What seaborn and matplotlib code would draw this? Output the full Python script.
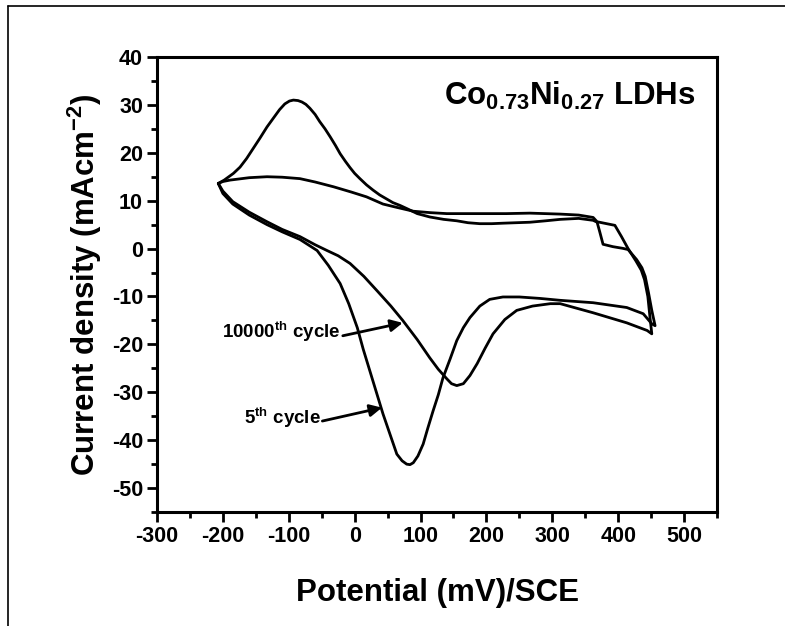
import matplotlib
matplotlib.use("Agg")
import matplotlib.pyplot as plt
from matplotlib.lines import Line2D
import seaborn as sns
import pandas as pd

# ---- cyclic voltammetry data (potential in mV vs SCE, current density in mA/cm^2) ----
# 5th cycle: anodic sweep followed by cathodic sweep
cycle5_potential = [
    -207, -198, -184, -174, -164, -154, -144, -133, -123, -114, -106, -99, -93, -86, -80,
    -74, -68, -60, -53, -45, -37, -29, -22, -14, -7, 0, 8, 18, 28, 38, 48, 58, 69, 80, 95,
    114, 135, 155, 172, 190, 208, 225, 245, 266, 290, 312, 340, 362, 368, 372, 377, 392,
    407, 415, 428, 436, 441, 446, 451, 456,
    451, 438, 413, 362, 312, 281, 250, 225, 205, 190, 175, 165, 155, 145, 134, 127, 119,
    111, 104, 96, 89, 84, 79, 72, 64, 53, 43, 33, 23, 13, 4, -9, -22, -40, -57, -83, -110,
    -133, -160, -185, -200, -207,
]
cycle5_current = [
    13.6, 14.3, 15.7, 17.0, 18.8, 20.9, 23.0, 25.4, 27.3, 29.0, 30.2, 30.8, 31.0, 30.9, 30.6,
    30.1, 29.3, 28.0, 26.5, 25.0, 23.3, 21.5, 19.8, 18.2, 16.9, 15.7, 14.6, 13.3, 12.2, 11.2,
    10.4, 9.6, 9.0, 8.3, 7.3, 6.6, 6.1, 5.8, 5.4, 5.2, 5.2, 5.3, 5.4, 5.5, 5.8, 6.1, 6.3, 5.9,
    5.5, 3.5, 0.9, 0.4, 0.05, -0.2, -2.3, -4.0, -5.8, -9.2, -12.9, -16.1,
    -15.7, -13.6, -12.3, -11.3, -10.8, -10.4, -10.1, -10.1, -10.6, -12.0, -14.4, -16.5, -19.2,
    -23.0, -27.0, -30.5, -33.9, -37.5, -40.8, -43.3, -44.7, -45.1, -45.0, -44.3, -42.9, -38.5,
    -34.5, -30.0, -25.5, -21.0, -16.5, -11.5, -7.3, -3.5, -0.4, 1.9, 3.5, 5.0, 7.0, 9.3, 11.5,
    13.6,
]

# 10000th cycle: anodic sweep followed by cathodic sweep
cycle10k_potential = [
    -207, -200, -189, -160, -133, -110, -83, -60, -32, -5, 18, 43, 64, 89, 115, 140, 190,
    230, 266, 312, 340, 362, 368, 395, 405, 415, 427, 435, 440, 445, 448, 451,
    444, 413, 362, 312, 297, 270, 246, 228, 210, 198, 186, 175, 165, 155, 147, 140, 127,
    114, 95, 73, 55, 34, 14, -7, -25, -42, -60, -83, -110, -133, -160, -185, -200, -207,
]
cycle10k_current = [
    13.6, 14.0, 14.3, 14.8, 15.0, 14.9, 14.6, 13.9, 12.9, 11.8, 10.8, 9.3, 8.6, 7.8, 7.5,
    7.3, 7.3, 7.3, 7.4, 7.2, 7.0, 6.5, 5.6, 4.85, 2.5, 0.0, -2.6, -4.5, -6.5, -10.0, -14.0,
    -17.8,
    -17.1, -15.5, -13.4, -11.5, -11.5, -12.0, -12.9, -14.8, -17.8, -20.8, -24.0, -26.5,
    -28.2, -28.6, -28.2, -27.2, -25.2, -22.8, -19.0, -15.0, -12.0, -8.8, -5.8, -3.1, -1.5,
    -0.4, 0.8, 2.5, 4.0, 5.6, 7.6, 9.8, 12.0, 13.6,
]

x_ticks = [-300, -200, -100, 0, 100, 200, 300, 400, 500]
y_ticks = [40, 30, 20, 10, 0, -10, -20, -30, -40, -50]

# ---- style ----
sns.set_theme(style="white")
family = "Liberation Sans"
plt.rcParams.update({
    "font.family": [family, "DejaVu Sans"],
    "font.weight": "bold",
    "text.color": "black",
    "axes.labelcolor": "black",
    "xtick.color": "black",
    "ytick.color": "black",
    "axes.unicode_minus": False,
    "mathtext.fontset": "custom",
    "mathtext.rm": f"{family}:bold",
    "mathtext.bf": f"{family}:bold",
    "mathtext.it": f"{family}:bold",
    "mathtext.default": "bf",
})

fig = plt.figure(figsize=(7.85, 6.26), dpi=100)
ax = fig.add_axes([0.2, 0.182, 0.7134, 0.727])

df5 = pd.DataFrame({"E": cycle5_potential, "I": cycle5_current})
df10k = pd.DataFrame({"E": cycle10k_potential, "I": cycle10k_current})
for df in (df5, df10k):
    sns.lineplot(data=df, x="E", y="I", sort=False, estimator=None, ax=ax,
                 color="black", linewidth=2.0)

ax.set_xlim(-300, 550)
ax.set_ylim(-55, 40)
ax.set_xticks(x_ticks)
ax.set_yticks(y_ticks)
ax.set_xticks([v + 50 for v in x_ticks], minor=True)
ax.set_yticks([v - 5 for v in y_ticks], minor=True)
ax.tick_params(which="major", direction="out", length=7, width=2.0,
               labelsize=15.5, pad=3, bottom=True, left=True)
ax.tick_params(which="minor", direction="out", length=4, width=2.0,
               bottom=True, left=True)
for lab in ax.get_xticklabels() + ax.get_yticklabels():
    lab.set_fontweight("bold")
for sp in ax.spines.values():
    sp.set_linewidth(2.2)
    sp.set_color("black")

ax.set_xlabel("Potential (mV)/SCE", fontsize=22.5, fontweight="bold", labelpad=22)
ax.set_ylabel("Current density (mAcm$^{-2}$)", fontsize=22.5, fontweight="bold", labelpad=6)

ax.text(0.962, 0.915, "Co$_{0.73}$Ni$_{0.27}$ LDHs", transform=ax.transAxes,
        ha="right", va="center", fontsize=22.5, fontweight="bold")

# cycle labels with arrows
ax.text(-22, -17.5, "10000$^{th}$ cycle", ha="right", va="center", fontsize=13.5,
        fontweight="bold")
ax.annotate("", xy=(73, -15.5), xytext=(-18, -18.2),
            arrowprops=dict(arrowstyle="-|>", color="black", lw=2.0, mutation_scale=18,
                            shrinkA=0, shrinkB=0))
ax.text(-51, -35.3, "5$^{th}$ cycle", ha="right", va="center", fontsize=13.5,
        fontweight="bold")
ax.annotate("", xy=(41.5, -33.2), xytext=(-49, -36.0),
            arrowprops=dict(arrowstyle="-|>", color="black", lw=2.0, mutation_scale=18,
                            shrinkA=0, shrinkB=0))

# outer frame lines along top and left of the figure
fig.add_artist(Line2D([8 / 785, 1.0], [1 - 6 / 626, 1 - 6 / 626], transform=fig.transFigure,
                      color="black", lw=1.2))
fig.add_artist(Line2D([8 / 785, 8 / 785], [0.0, 1 - 6 / 626], transform=fig.transFigure,
                      color="black", lw=1.2))

fig.savefig("out.png", dpi=100)
